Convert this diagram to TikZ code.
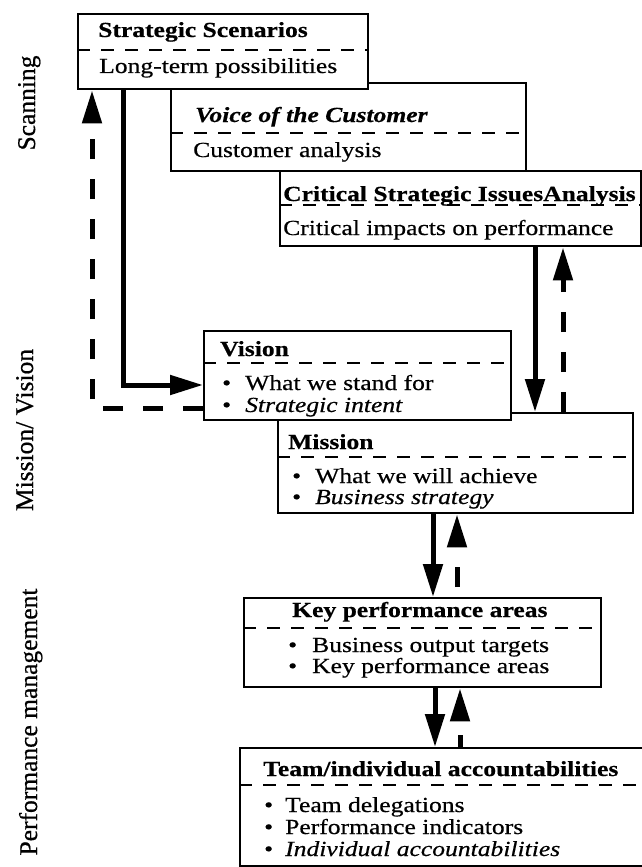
\documentclass[tikz,border=0pt]{standalone}
\usepackage{fontspec}
\setmainfont[FakeStretch=1.19,FakeBold=0.5]{Liberation Serif}
\newfontfamily\sidefont[FakeBold=0.6]{Liberation Serif}
\usetikzlibrary{arrows.meta}

\newcommand\dotitem{\makebox[0pt][l]{\textbullet}}

\begin{document}
\begin{tikzpicture}[x=1pt,y=-1pt,
  box/.style={draw, line width=2.4pt, fill=white, rectangle, anchor=north west, inner sep=0pt},
  sep/.style={line width=1.1pt, dash pattern=on 13pt off 11pt},
  txt/.style={anchor=base west, inner sep=0pt, text height=14pt, text depth=4pt,
              font=\fontsize{21.5}{24}\selectfont},
  ttl/.style={txt, font=\fontsize{21.5}{24}\selectfont\bfseries},
  side/.style={rotate=90, anchor=base, inner sep=0pt, font=\sidefont\fontsize{25.5}{30}\selectfont},
  flow/.style={line width=5pt, -{Triangle[length=33pt,width=19pt]}},
  back/.style={flow, dash pattern=on 20pt off 20pt},
]
\useasboundingbox (0,0) rectangle (642,867);
\fill[white] (0,0) rectangle (642,867);
\clip (0,0) rectangle (642,867);

% phase labels down the left margin
\node[side] (l1) at (35,103) {Scanning};
\node[side] (l2) at (33,430) {Mission/ Vision};
\node[side] (l3) at (37,722) {Performance management};

% boxes, back to front
\node[box, minimum width=430pt, minimum height=118pt] (team) at (239,747) {};
\node[box, minimum width=357pt, minimum height=89pt]  (kpa)  at (243,597) {};
\node[box, minimum width=355pt, minimum height=100pt] (mis)  at (277,412) {};
\node[box, minimum width=307pt, minimum height=89pt]  (vis)  at (203,330) {};
\node[box, minimum width=361pt, minimum height=75pt]  (crit) at (279,170) {};
\node[box, minimum width=355pt, minimum height=88pt]  (voc)  at (170,82) {};
\node[box, minimum width=290pt, minimum height=75pt]  (ss)   at (77,13) {};

% dashed rules under the box titles
\coordinate (r1) at (0,50);
\coordinate (r2) at (0,133);
\coordinate (r3) at (0,205);
\coordinate (r4) at (0,363);
\coordinate (r5) at (0,457);
\coordinate (r6) at (0,628);
\coordinate (r7) at (0,785);
\draw[sep] (ss.west |- r1) -- (ss.east |- r1);
\draw[sep] (voc.west |- r2) -- (voc.east |- r2);
\draw[sep] (crit.west |- r3) -- (crit.east |- r3);
\draw[sep] (vis.west |- r4) -- (vis.east |- r4);
\draw[sep] (mis.west |- r5) -- (mis.east |- r5);
\draw[sep] (kpa.west |- r6) -- (kpa.east |- r6);
\draw[sep] (team.west |- r7) -- (team.east |- r7);

% box texts
\node[ttl] (t1) at (98,37) {Strategic Scenarios};
\node[txt] (t2) at (99,73) {Long-term possibilities};
\node[ttl] (t3) at (195,122) {\itshape Voice of the Customer};
\node[txt] (t4) at (193,157) {Customer analysis};
\node[ttl] (t5) at (283,201) {Critical Strategic IssuesAnalysis};
\node[txt] (t6) at (283,235) {Critical impacts on performance};
\node[ttl] (t7) at (220,356) {Vision};
\node[txt] (t8) at (222,390) {\dotitem\hspace{23pt}What we stand for};
\node[txt] (t9) at (222,412) {\dotitem\hspace{23pt}\itshape Strategic intent};
\node[ttl] (t10) at (288,449) {Mission};
\node[txt] (t11) at (292,483) {\dotitem\hspace{23pt}What we will achieve};
\node[txt] (t12) at (292,504) {\dotitem\hspace{23pt}\itshape Business strategy};
\node[ttl] (t13) at (292,617) {Key performance areas};
\node[txt] (t14) at (288,652) {\dotitem\hspace{24pt}Business output targets};
\node[txt] (t15) at (288,673) {\dotitem\hspace{24pt}Key performance areas};
\node[ttl] (t16) at (263,776) {Team/individual accountabilities};
\node[txt] (t17) at (264,812) {\dotitem\hspace{21pt}Team delegations};
\node[txt] (t18) at (264,834) {\dotitem\hspace{21pt}Performance indicators};
\node[txt] (t19) at (264,856) {\dotitem\hspace{21pt}\itshape Individual accountabilities};

% columns and rows the connectors run along
\coordinate (xa) at (123,0);
\coordinate (ya) at (0,385);
\coordinate (xb) at (92,0);
\coordinate (yb) at (0,408);
\coordinate (xc) at (535,0);
\coordinate (xd) at (563,0);
\coordinate (xe) at (433,0);
\coordinate (xf) at (457,0);
\coordinate (xg) at (435,0);
\coordinate (xh) at (460,0);

% connectors
\draw[flow] (ss.south -| xa) |- (vis.west |- ya);
\draw[back] (vis.west |- yb) -| (ss.south -| xb);
\draw[flow] (crit.south -| xc) -- (mis.north -| xc);
\draw[back] (mis.north -| xd) -- (crit.south -| xd);
\draw[flow] (mis.south -| xe) -- (kpa.north -| xe);
\draw[back, dash phase=30pt] (kpa.north -| xf) -- (mis.south -| xf);
\draw[flow] (kpa.south -| xg) -- (team.north -| xg);
\draw[back, dash pattern=on 12pt off 20pt] (team.north -| xh) -- (kpa.south -| xh);
\end{tikzpicture}
\end{document}
